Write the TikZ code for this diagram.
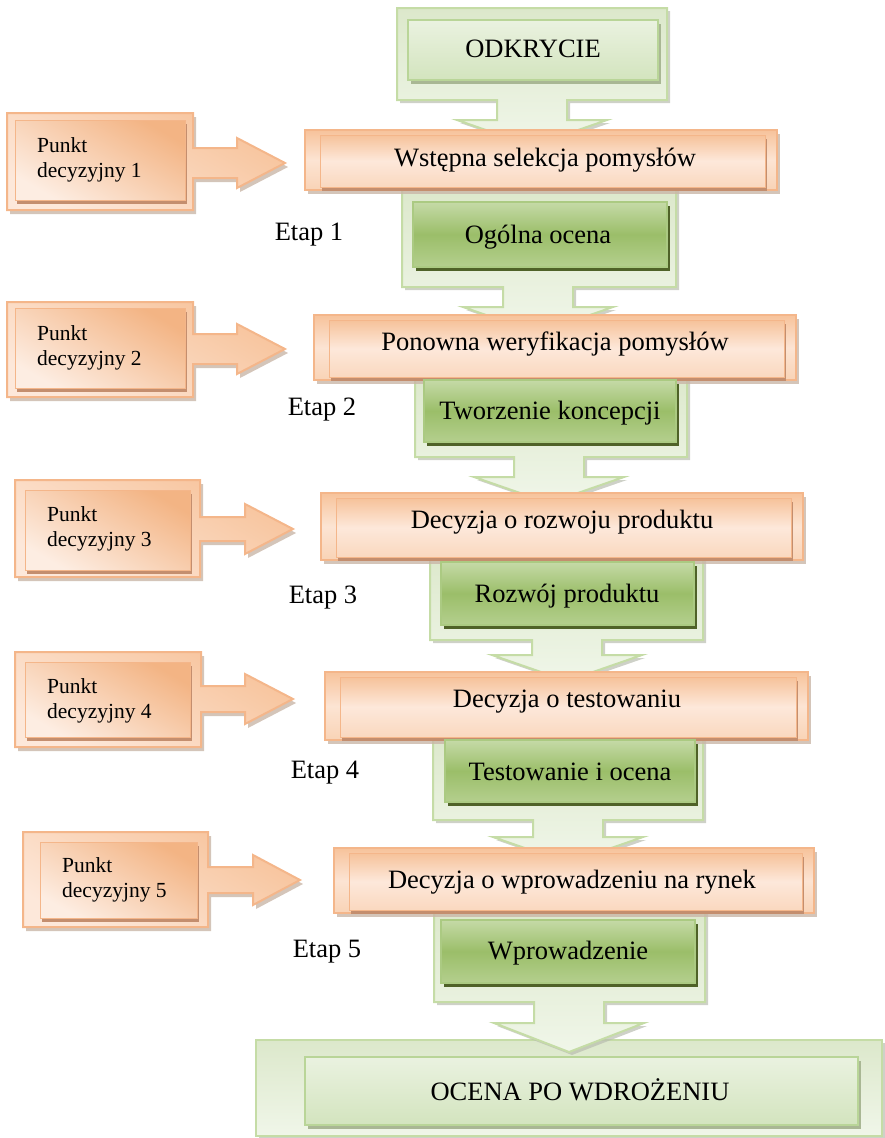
\documentclass[tikz,border=0pt]{standalone}
\usepackage{fontspec}
\setmainfont{Liberation Serif}
\usetikzlibrary{shadows}

% palette
\definecolor{calloutline}{HTML}{C5DCA6}
\definecolor{callouttop}{HTML}{DCE8CB}
\definecolor{calloutbot}{HTML}{F0F6E9}
\definecolor{shadowgray}{HTML}{B9BDB0}
\definecolor{odkline}{HTML}{B9D598}
\definecolor{odktop}{HTML}{EAF2E0}
\definecolor{odkbot}{HTML}{D3E4BE}
\definecolor{odkshadow}{HTML}{A9B794}
\definecolor{dgline}{HTML}{ABCA82}
\definecolor{dgtop}{HTML}{C5DAA7}
\definecolor{dgmid}{HTML}{9BBE69}
\definecolor{dgbot}{HTML}{B4CF8E}
\definecolor{dgshadow}{HTML}{4F6228}
\definecolor{orline}{HTML}{F4B68A}
\definecolor{orA}{HTML}{F7C39B}
\definecolor{orB}{HTML}{FCE4D3}
\definecolor{orC}{HTML}{F9D3B6}
\definecolor{orInA}{HTML}{F6C29A}
\definecolor{orInB}{HTML}{FDE8DA}
\definecolor{orInC}{HTML}{FAD8BF}
\definecolor{orDark}{HTML}{F3B484}
\definecolor{orLight}{HTML}{FDEDE2}
\definecolor{orshadow}{HTML}{C48E6E}
\definecolor{orshadowlight}{HTML}{C9B6A8}

\tikzset{
  lightcallout/.style={draw=calloutline, line width=2pt, top color=callouttop, bottom color=calloutbot,
    drop shadow={shadow xshift=3pt, shadow yshift=-3pt, fill=shadowgray, opacity=.7}},
  odkbox/.style={draw=odkline, line width=1.5pt, top color=odktop, bottom color=odkbot,
    drop shadow={shadow xshift=3pt, shadow yshift=-4pt, fill=odkshadow, opacity=1}},
  stagebox/.style={draw=dgline, line width=1.5pt, top color=dgtop, bottom color=dgbot, middle color=dgmid,
    drop shadow={shadow xshift=3pt, shadow yshift=-4pt, fill=dgshadow, opacity=1}},
  orangeouter/.style={draw=orline, line width=2pt, top color=orA, bottom color=orC, middle color=orB,
    drop shadow={shadow xshift=3pt, shadow yshift=-4pt, fill=orshadowlight, opacity=.8}},
  orangeinner/.style={draw=orline, line width=.8pt, top color=orInA, bottom color=orInC, middle color=orInB,
    drop shadow={shadow xshift=2pt, shadow yshift=-4pt, fill=orshadow, opacity=1}},
  punktouter/.style={draw=orline, line width=2pt, top color=orA, bottom color=orInB, shading angle=-30,
    drop shadow={shadow xshift=3pt, shadow yshift=-4pt, fill=orshadowlight, opacity=.8}},
  punktinner/.style={draw=orline, line width=.8pt, top color=orDark, bottom color=orLight, shading angle=-30,
    drop shadow={shadow xshift=2pt, shadow yshift=-4pt, fill=orshadow, opacity=1}},
  maintext/.style={font=\fontsize{26.5}{30}\selectfont, inner sep=0pt},
  punkttext/.style={font=\fontsize{21.5}{25}\selectfont, align=left, anchor=base west, inner sep=0pt},
}

% light green panel with a down arrow: x1 y1 x2 y2, arrow axis, head top, tip
\newcommand\greencallout[7]{%
  \path[lightcallout] (#1,#2) -- (#3,#2) -- (#3,#4) -- ({#5+35},#4) -- ({#5+35},#6)
    -- ({#5+75},#6) -- (#5,#7) -- ({#5-75},#6) -- ({#5-35},#6) -- ({#5-35},#4)
    -- (#1,#4) -- cycle;}

% orange panel with a right arrow: x1 y1 x2 y2, arrow axis y, shaft half height, head x, tip x
\newcommand\punktshape[8]{%
  \path[punktouter] (#1,#2) -- (#3,#2) -- (#3,{#5-#6}) -- (#7,{#5-#6}) -- (#7,{#5-25})
    -- (#8,#5) -- (#7,{#5+25}) -- (#7,{#5+#6}) -- (#3,{#5+#6}) -- (#3,#4) -- (#1,#4) -- cycle;}

% double orange decision bar
\newcommand\orangebox[4]{%
  \path[orangeouter] (#1,#2) rectangle (#3,#4);
  \path[orangeinner] ({#1+15},{#2+5}) rectangle ({#3-12},{#4-3});}

\begin{document}
\begin{tikzpicture}[x=1pt,y=-1pt]
\useasboundingbox (0,0) rectangle (885,1138);

% decision point panels
\punktshape{7}{113}{193}{210}{163}{15}{237}{285}
\path[punktinner] (15,120) rectangle (185,200);
\punktshape{7}{302}{193}{397}{349}{15}{237}{285}
\path[punktinner] (15,308) rectangle (185,388);
\punktshape{15}{480}{200}{577}{529}{12}{245}{293}
\path[punktinner] (25,490) rectangle (190,570);
\punktshape{15}{652}{201}{747}{699}{13}{245}{293}
\path[punktinner] (25,662) rectangle (190,737);
\punktshape{23}{832}{208}{927}{880}{13}{253}{300}
\path[punktinner] (40,842) rectangle (197,918);

% green stage panels with down arrows
\greencallout{397}{8}{667}{100}{532}{120}{146}
\greencallout{402}{185}{676}{287}{538}{307}{333}
\greencallout{415}{372}{687}{457}{549}{477}{503}
\greencallout{430}{552}{703}{640}{567}{655}{681}
\greencallout{433}{732}{703}{820}{568}{837}{863}
\path[lightcallout] (256,1040) rectangle (882,1136);
\greencallout{434}{905}{705}{1002}{569}{1023}{1052}

% light inner boxes
\path[odkbox] (408,20) rectangle (658,80);
\path[odkbox] (305,1057) rectangle (858,1125);

% decision bars
\orangebox{305}{130}{777}{190}
\orangebox{314}{315}{796}{380}
\orangebox{321}{493}{803}{560}
\orangebox{325}{672}{808}{740}
\orangebox{334}{848}{814}{913}

% stage boxes
\path[stagebox] (413,202) rectangle (667,267);
\path[stagebox] (424,380) rectangle (676,442);
\path[stagebox] (441,562) rectangle (694,625);
\path[stagebox] (445,740) rectangle (695,802);
\path[stagebox] (441,920) rectangle (695,983);

% texts
\node[maintext, anchor=base] (odk) at (533,57) {ODKRYCIE};
\node[maintext] (sel1) at (545,160) {Wstępna selekcja pomysłów};
\node[maintext] (st1) at (538,237) {Ogólna ocena};
\node[maintext] (et1) at (309,235) {Etap 1};
\node[maintext] (sel2) at (555,344) {Ponowna weryfikacja pomysłów};
\node[maintext] (st2) at (550,413) {Tworzenie koncepcji};
\node[maintext] (et2) at (322,410) {Etap 2};
\node[maintext] (sel3) at (562,522) {Decyzja o rozwoju produktu};
\node[maintext] (st3) at (567,596) {Rozwój produktu};
\node[maintext] (et3) at (323,598) {Etap 3};
\node[maintext] (sel4) at (567,702) {Decyzja o testowaniu};
\node[maintext] (st4) at (570,772) {Testowanie i ocena};
\node[maintext] (et4) at (325,773) {Etap 4};
\node[maintext] (sel5) at (572,882) {Decyzja o wprowadzeniu na rynek};
\node[maintext] (st5) at (568,953) {Wprowadzenie};
\node[maintext] (et5) at (327,952) {Etap 5};
\node[maintext, anchor=base] (post) at (580,1100) {OCENA PO WDROŻENIU};

% two-line labels: the base anchor sits on the second line
\node[punkttext] (p1) at (37,177) {Punkt\\decyzyjny 1};
\node[punkttext] (p2) at (37,365) {Punkt\\decyzyjny 2};
\node[punkttext] (p3) at (47,546) {Punkt\\decyzyjny 3};
\node[punkttext] (p4) at (47,718) {Punkt\\decyzyjny 4};
\node[punkttext] (p5) at (62,897) {Punkt\\decyzyjny 5};
\end{tikzpicture}
\end{document}
